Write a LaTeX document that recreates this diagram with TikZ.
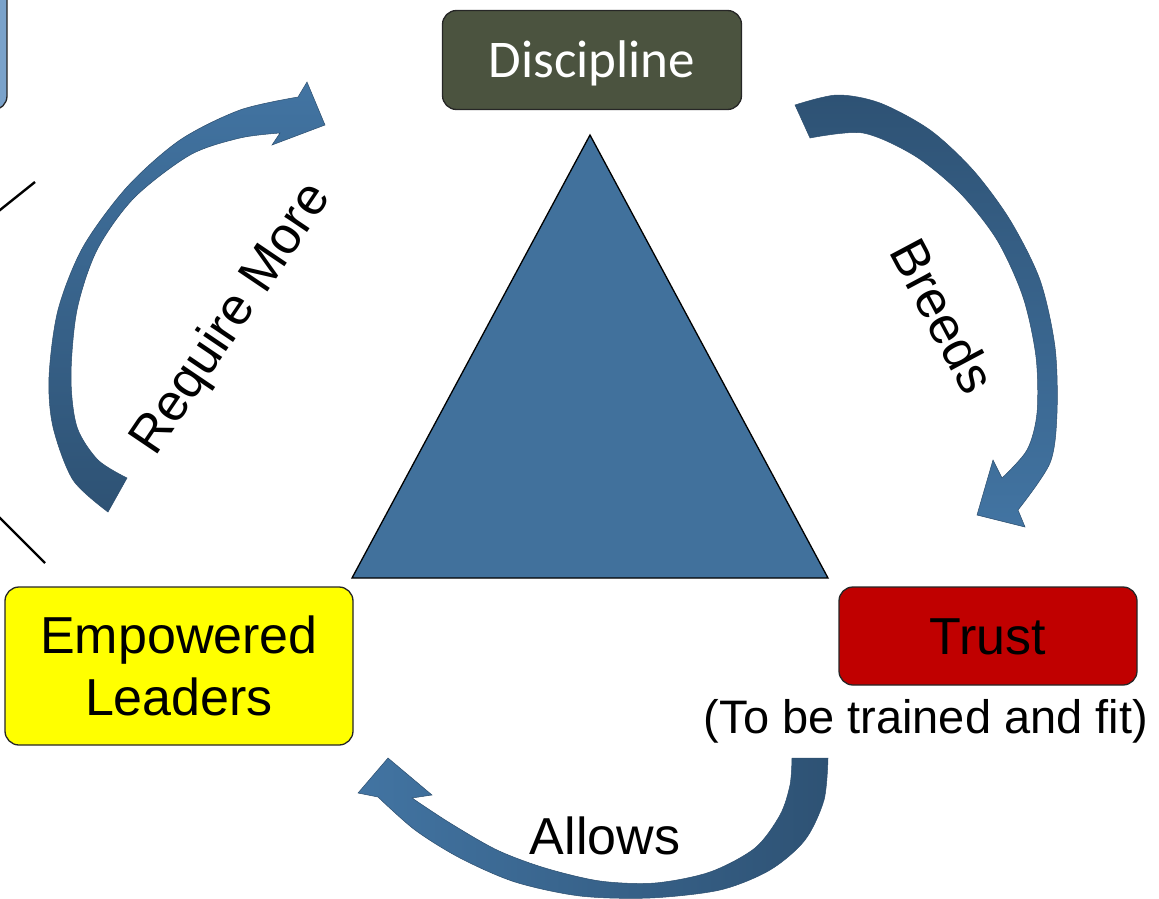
\documentclass[tikz,border=0pt]{standalone}
\usepackage{fontspec}
\setmainfont{Liberation Sans}
\newfontfamily\calibri{Carlito}
\definecolor{tri}{RGB}{65,113,156}
\definecolor{arlight}{RGB}{66,116,162}
\definecolor{ardark}{RGB}{46,82,116}
\definecolor{arline}{RGB}{44,78,110}
\definecolor{olive}{RGB}{75,83,63}
\definecolor{trustred}{RGB}{192,0,0}
\definecolor{sideblue}{RGB}{122,162,202}
\definecolor{leadyellow}{RGB}{255,255,0}

\begin{document}
\begin{tikzpicture}[x=1pt,y=-1pt,
        box/.style={draw=black!85,line width=1.3pt,rounded corners=14pt,inner sep=0pt,align=center},
        bent/.style={draw=arline,line width=0.5pt},
        lbl/.style={font=\fontsize{52}{62}\selectfont,text height=37pt,text depth=0pt,inner sep=0pt}]
        \useasboundingbox (0,0) rectangle (1159,899);
        % boxes
        \node[box,fill=sideblue,minimum width=80pt,minimum height=180pt] (side) at (-33,20) {};
        \node[box,fill=olive,text=white,minimum width=299pt,minimum height=99pt,text height=35pt,text depth=0pt,
              font=\calibri\fontsize{53}{60}\selectfont] (disc) at (592,60) {Discipline};
        \node[box,fill=trustred,minimum width=298pt,minimum height=98pt,text height=37pt,text depth=0pt,
              font=\fontsize{52}{62}\selectfont] (trust) at (988,636) {Trust};
        \node[box,fill=leadyellow,minimum width=348pt,minimum height=158pt,
              font=\fontsize{52}{62}\selectfont] (lead) at (179,666) {Empowered\\Leaders};
        \node[lbl,font=\fontsize{47}{56}\selectfont,text height=34pt] (fit) at (926,716) {(To be trained and fit)};
        % triangle
        \draw[fill=tri,line width=1.3pt] (590,135) -- (828,578) -- (352,578) -- cycle;
        % lines on the left
        \coordinate (la) at (-10,218);
        \coordinate (lb) at (35,182);
        \coordinate (lc) at (-10,508);
        \coordinate (ld) at (45,563);
        \draw[line width=2.4pt] (la) -- (lb);
        \draw[line width=2.4pt] (lc) -- (ld);
        % curved arrows
        \path[bent,top color=arlight,bottom color=ardark]
            plot[smooth] coordinates {(108,512) (73,480) (53,427) (49,377) (58,310) (83,247) (127,187) (180,140) (240,110) (298,97)}
            -- (307,82) -- (325,125) -- (272,145) --
            plot[smooth] coordinates {(280,133) (240,138) (190,155) (134,198) (97,250) (77,310) (71,377) (77,427) (98,460) (127,478)}
            -- cycle;
        \path[bent,top color=ardark,bottom color=arlight]
            plot[smooth] coordinates {(795,105) (837,95) (880,103) (930,130) (973,170) (1010,220) (1040,280) (1055,347) (1057,413) (1050,463) (1018,510)}
            -- (1025,527) -- (977,515) -- (993,460) --
            plot[smooth] coordinates {(1002,478) (1027,450) (1037,413) (1036,357) (1023,297) (997,240) (960,193) (915,156) (863,133) (810,138)}
            -- cycle;
        \path[bent,left color=arlight,right color=ardark]
            plot[smooth] coordinates {(828,758) (824,800) (805,840) (770,870) (720,890) (650,898) (580,896) (515,882) (460,858) (415,830) (378,797)}
            -- (358,793) -- (388,758) -- (432,795) --
            plot[smooth] coordinates {(412,798) (450,823) (497,850) (545,868) (600,881) (655,883) (710,872) (755,848) (780,815) (790,785) (792,758)}
            -- cycle;
        % arrow labels
        \node[lbl,rotate=56] (req) at (228,317) {Require More};
        \node[lbl,rotate=-62] (breed) at (943,316) {Breeds};
        \node[lbl] (allow) at (605,836) {Allows};
\end{tikzpicture}
\end{document}
